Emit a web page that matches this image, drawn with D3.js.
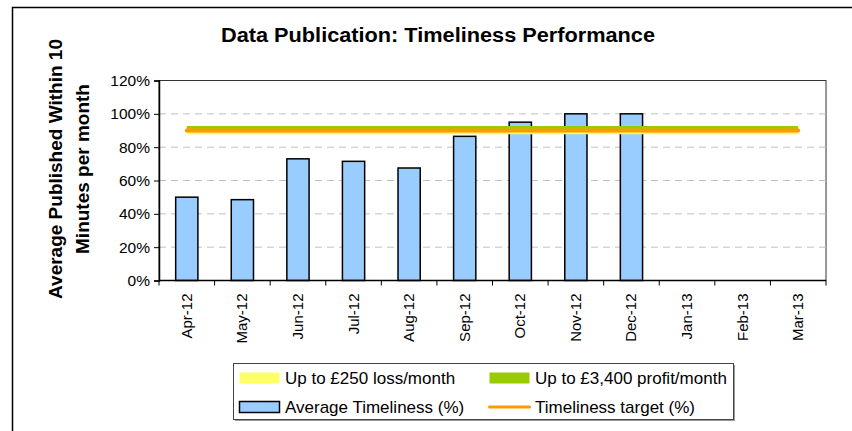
<!DOCTYPE html>
<html lang="en">
  <head>
    <meta charset="UTF-8" />
    <title>Data Publication: Timeliness Performance</title>
    <script src="https://d3js.org/d3.v7.min.js"></script>
    <style>
      body { margin: 0; background: #fff; }
      text { font-family: "Liberation Sans", Arial, sans-serif; fill: #000; }
    </style>
  </head>
  <body>
    <div id="chart"></div>
    <script>
      // Months on the category axis
      const months = ["Apr-12", "May-12", "Jun-12", "Jul-12", "Aug-12", "Sep-12",
        "Oct-12", "Nov-12", "Dec-12", "Jan-13", "Feb-13", "Mar-13"];
      // Average timeliness (%) — no data yet for Jan-Mar 13
      const timeliness = [50, 48.5, 73, 71.5, 67.5, 86.5, 95, 100, 100, null, null, null];
      // Threshold lines (%)
      const lossLine = months.map(() => 89);      // Up to £250 loss/month
      const profitLine = months.map(() => 91.5);  // Up to £3,400 profit/month
      const targetLine = months.map(() => 90);    // Timeliness target
      const yTicks = [0, 20, 40, 60, 80, 100, 120];

      const width = 852, height = 431;
      const plot = { left: 159, top: 80.5, right: 826, bottom: 280.5 };

      const svg = d3.select("#chart").append("svg")
        .attr("width", width).attr("height", height);

      // outer chart border (runs off the bottom/right of the picture)
      svg.append("rect")
        .attr("x", 12.5).attr("y", 7.5)
        .attr("width", 900).attr("height", 600)
        .attr("fill", "#fff").attr("stroke", "#000").attr("stroke-width", 1.5);

      // Scales
      const x = d3.scaleBand().domain(months).range([plot.left, plot.right]);
      const y = d3.scaleLinear().domain([0, 120]).range([plot.bottom, plot.top]);

      // plot area frame
      svg.append("rect")
        .attr("x", plot.left).attr("y", plot.top)
        .attr("width", plot.right - plot.left).attr("height", plot.bottom - plot.top)
        .attr("fill", "none").attr("stroke", "#333").attr("stroke-width", 1);

      // Gridlines
      svg.append("g").selectAll("line")
        .data(yTicks.filter(d => d > 0 && d < 120))
        .join("line")
        .attr("x1", plot.left).attr("x2", plot.right)
        .attr("y1", d => y(d)).attr("y2", d => y(d))
        .attr("stroke", "#c0c0c0").attr("stroke-dasharray", "7,5");

      // Bars
      const barW = x.step() * 0.4;
      svg.append("g").selectAll("rect")
        .data(months.map((m, i) => ({ m, v: timeliness[i] })).filter(d => d.v != null))
        .join("rect")
        .attr("x", d => x(d.m) + (x.step() - barW) / 2)
        .attr("y", d => y(d.v))
        .attr("width", barW)
        .attr("height", d => y(0) - y(d.v))
        .attr("fill", "#99ccff").attr("stroke", "#000").attr("stroke-width", 1.5);

      // Threshold lines
      const line = d3.line()
        .x((d, i) => x(months[i]) + x.bandwidth() / 2)
        .y(d => y(d));
      svg.append("path").datum(lossLine).attr("d", line)
        .attr("fill", "none").attr("stroke", "#ffff55").attr("stroke-width", 4);
      svg.append("path").datum(profitLine).attr("d", line)
        .attr("fill", "none").attr("stroke", "#99cc00").attr("stroke-width", 4);
      svg.append("path").datum(targetLine).attr("d", line)
        .attr("fill", "none").attr("stroke", "#ff9900").attr("stroke-width", 4)
        .attr("stroke-linecap", "round");

      // Y axis
      const yAxis = svg.append("g")
        .attr("transform", `translate(${plot.left},0)`)
        .call(d3.axisLeft(y).tickValues(yTicks).tickFormat(d => d + "%")
          .tickSize(5).tickPadding(4));
      yAxis.select(".domain").attr("stroke", "#000").attr("stroke-width", 1.5);
      yAxis.selectAll("text").style("font-size", "15.5px").attr("fill", "#000");

      // X axis: ticks sit on the category boundaries
      const xAxis = svg.append("g")
        .attr("transform", `translate(0,${plot.bottom})`);
      xAxis.append("line")
        .attr("x1", plot.left).attr("x2", plot.right)
        .attr("stroke", "#000").attr("stroke-width", 1.5);
      xAxis.selectAll(".tk")
        .data(months.concat(["end"]))
        .join("line")
        .attr("class", "tk")
        .attr("x1", (d, i) => plot.left + i * x.step())
        .attr("x2", (d, i) => plot.left + i * x.step())
        .attr("y1", 0).attr("y2", 5)
        .attr("stroke", "#000");
      xAxis.selectAll(".lbl")
        .data(months)
        .join("text")
        .attr("class", "lbl")
        .attr("transform", d => `translate(${x(d) + x.bandwidth() / 2 + 5},13) rotate(-90)`)
        .attr("text-anchor", "end")
        .style("font-size", "15px")
        .text(d => d);

      // Title
      svg.append("text")
        .attr("x", 221).attr("y", 42)
        .attr("textLength", 434).attr("lengthAdjust", "spacingAndGlyphs")
        .style("font-size", "20px").style("font-weight", "bold")
        .text("Data Publication: Timeliness Performance");

      // Y axis title, two lines
      const yTitle = svg.append("text")
        .attr("transform", "translate(0,169) rotate(-90)")
        .attr("text-anchor", "middle")
        .style("font-size", "19px").style("font-weight", "bold");
      yTitle.append("tspan").attr("x", 0).attr("y", 62).text("Average Published Within 10");
      yTitle.append("tspan").attr("x", 0).attr("y", 88.5).text("Minutes per month");

      // Legend
      const legend = svg.append("g");
      legend.append("rect")
        .attr("x", 235).attr("y", 365).attr("width", 500).attr("height", 56)
        .attr("fill", "#999");
      legend.append("rect")
        .attr("x", 233.5).attr("y", 363.5).attr("width", 500).attr("height", 56)
        .attr("fill", "#fff").attr("stroke", "#444").attr("stroke-width", 1);

      const items = [
        { label: "Up to £250 loss/month", type: "swatch", color: "#ffff66", col: 0, row: 0 },
        { label: "Up to £3,400 profit/month", type: "swatch", color: "#99cc00", col: 1, row: 0 },
        { label: "Average Timeliness (%)", type: "bar", color: "#99ccff", col: 0, row: 1 },
        { label: "Timeliness target (%)", type: "line", color: "#ff9900", col: 1, row: 1 }
      ];
      const colX = [239.5, 489.5], rowY = [378, 407];
      items.forEach(it => {
        const g = legend.append("g")
          .attr("transform", `translate(${colX[it.col]},${rowY[it.row]})`);
        if (it.type === "line") {
          g.append("line").attr("x1", 0).attr("x2", 40)
            .attr("stroke", it.color).attr("stroke-width", 3).attr("stroke-linecap", "round");
        } else {
          g.append("rect").attr("x", 0).attr("y", -5.5).attr("width", 40).attr("height", 11)
            .attr("fill", it.color)
            .attr("stroke", it.type === "bar" ? "#000" : "none").attr("stroke-width", 1.5);
        }
        g.append("text").attr("x", 45.5).attr("dy", "0.36em")
          .style("font-size", "17px").text(it.label);
      });
    </script>
  </body>
</html>
